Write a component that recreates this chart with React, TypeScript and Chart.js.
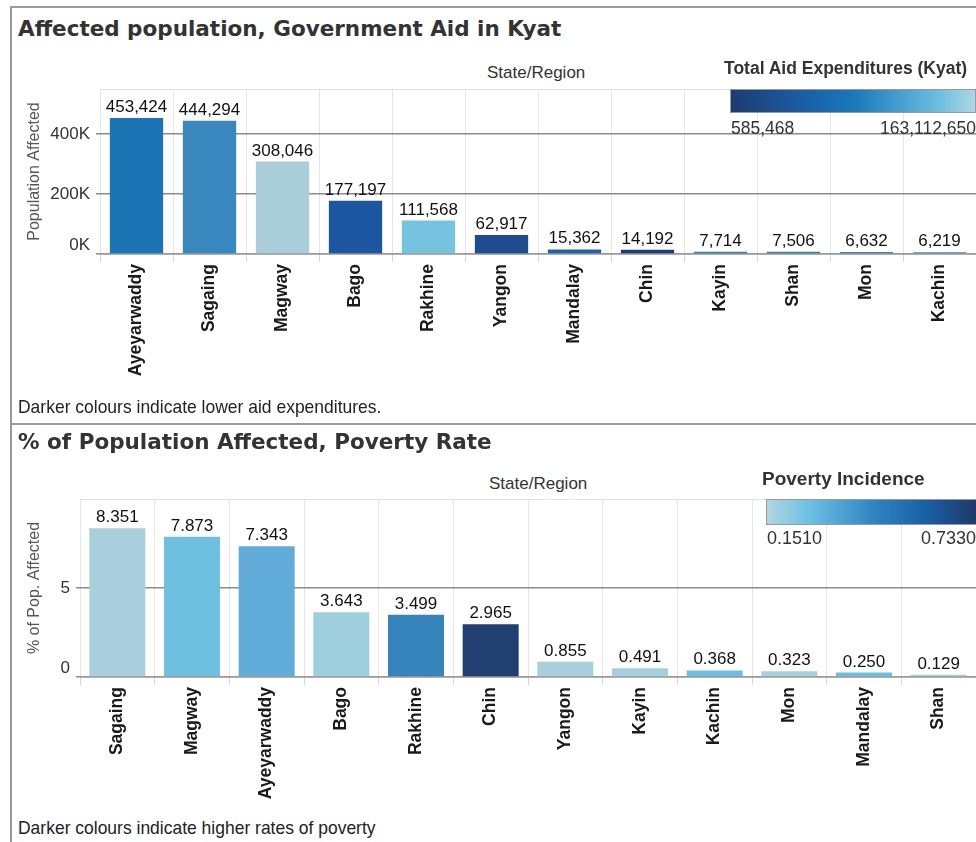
import React, { useEffect, useRef } from 'react'
import { Chart, registerables } from 'chart.js'

Chart.register(...registerables)

// --- data: top panel (affected population, sorted by size)
const aidRegions = ['Ayeyarwaddy', 'Sagaing', 'Magway', 'Bago', 'Rakhine', 'Yangon', 'Mandalay', 'Chin', 'Kayin', 'Shan', 'Mon', 'Kachin']
const aidAffected = [453424, 444294, 308046, 177197, 111568, 62917, 15362, 14192, 7714, 7506, 6632, 6219]
const aidColors = ['#1b74b4', '#3887be', '#a9ced9', '#1c55a0', '#76c3e0', '#1d4d8e', '#1e63aa', '#1d3d7a', '#3b7ab2', '#3b7ab2', '#4a82b6', '#4a82b6']
const aidTicks = [0, 200000, 400000]
const aidLegend = ['585,468', '163,112,650']

// --- data: bottom panel (% of population affected)
const povRegions = ['Sagaing', 'Magway', 'Ayeyarwaddy', 'Bago', 'Rakhine', 'Chin', 'Yangon', 'Kayin', 'Kachin', 'Mon', 'Mandalay', 'Shan']
const povPercent = [8.351, 7.873, 7.343, 3.643, 3.499, 2.965, 0.855, 0.491, 0.368, 0.323, 0.25, 0.129]
const povColors = ['#a8cfdb', '#6fbfe1', '#62acd9', '#9fcedc', '#3784bd', '#213f70', '#a7d0dc', '#a4cfdd', '#6ebfe1', '#a7d0dc', '#6cbee1', '#a7d0dc']
const povTicks = [0, 5]
const povLegend = ['0.1510', '0.7330']

const SANS = '"Liberation Sans", Arial, sans-serif'
const TITLE_FONT = '"DejaVu Sans", sans-serif'

interface BarPanelProps {
    labels: string[]
    values: number[]
    colors: string[]
    ticks: number[]
    yMax: number
    yTitle: string
    yWidth: number
    xHeight: number
    tickFormat: (v: number) => string
    valueFormat: (v: number) => string
    barPct: number
    style: React.CSSProperties
}

function BarPanel(props: BarPanelProps) {
    const canvasRef = useRef<HTMLCanvasElement>(null)

    useEffect(() => {
        if (!canvasRef.current) return
        const { labels, values, colors, ticks, yMax, yTitle, yWidth, xHeight, tickFormat, valueFormat, barPct } = props

        // value labels over the bars, light top frame line, and the raised zero label
        const labelPlugin = {
            id: 'valueLabels',
            beforeDatasetsDraw(chart: any) {
                const { ctx, chartArea } = chart
                ctx.save()
                ctx.strokeStyle = '#e2e2e2'
                ctx.lineWidth = 1
                ctx.beginPath()
                ctx.moveTo(chartArea.left, chartArea.top + 0.5)
                ctx.lineTo(chartArea.right, chartArea.top + 0.5)
                ctx.stroke()
                ctx.restore()
            },
            afterDatasetsDraw(chart: any) {
                const { ctx, chartArea } = chart
                const meta = chart.getDatasetMeta(0)
                ctx.save()
                ctx.font = `17px ${SANS}`
                ctx.fillStyle = '#111'
                ctx.textAlign = 'center'
                ctx.textBaseline = 'alphabetic'
                meta.data.forEach((bar: any, i: number) => {
                    ctx.fillText(valueFormat(values[i]), bar.x, bar.y - 6)
                })
                // Tableau lifts the bottom axis label inside the pane
                ctx.fillStyle = '#333'
                ctx.textAlign = 'right'
                ctx.textBaseline = 'middle'
                const y0 = chart.scales.y.getPixelForValue(ticks[0])
                ctx.fillText(tickFormat(ticks[0]), chartArea.left - 10, Math.min(y0, chartArea.bottom) - 9)
                ctx.restore()
            },
        }

        const chart = new Chart(canvasRef.current, {
            type: 'bar',
            data: {
                labels,
                datasets: [{
                    data: values,
                    backgroundColor: colors,
                    borderWidth: 0,
                    categoryPercentage: 1,
                    barPercentage: barPct,
                }],
            },
            options: {
                responsive: false,
                animation: false,
                layout: { padding: { top: 29, right: 0, left: 0, bottom: 0 } },
                plugins: {
                    legend: { display: false },
                    tooltip: { enabled: false },
                },
                scales: {
                    x: {
                        grid: {
                            offset: true,
                            color: '#e6e6e6',
                            tickLength: 8,
                            tickColor: '#d6d6d6',
                        },
                        border: { display: true, color: '#9a9a9a', width: 1.5 },
                        ticks: {
                            autoSkip: false,
                            minRotation: 90,
                            maxRotation: 90,
                            padding: 2,
                            color: '#1a1a1a',
                            font: { family: SANS, size: 17.5, weight: 'bold' },
                        },
                        afterFit: (scale: any) => { scale.height = xHeight },
                    },
                    y: {
                        min: 0,
                        max: yMax,
                        afterBuildTicks: (scale: any) => { scale.ticks = ticks.map(v => ({ value: v })) },
                        grid: {
                            color: '#8c8c8c',
                            lineWidth: 1.5,
                            tickLength: 4,
                        },
                        border: { display: false },
                        ticks: {
                            padding: 6,
                            color: '#333',
                            font: { family: SANS, size: 17 },
                            callback: (v: any) => (Number(v) === ticks[0] ? '' : tickFormat(Number(v))),
                        },
                        title: {
                            display: true,
                            text: yTitle,
                            color: '#555',
                            font: { family: SANS, size: 16 },
                            padding: { top: 15, bottom: 0 },
                        },
                        afterFit: (scale: any) => { scale.width = yWidth },
                    },
                },
            },
            plugins: [labelPlugin],
        })

        return () => chart.destroy()
    }, [])

    return <canvas ref={canvasRef} width={966} height={345} style={{ position: 'absolute', ...props.style }} />
}

const abs = (s: React.CSSProperties): React.CSSProperties => ({ position: 'absolute', whiteSpace: 'nowrap', ...s })

const footer: React.CSSProperties = { fontSize: 19, color: '#222', transform: 'scaleX(0.92)', transformOrigin: 'left center' }

export default function App() {
    return (
        <div style={{ position: 'absolute', left: 0, top: 0, width: 976, height: 842, background: '#fff', overflow: 'hidden', fontFamily: SANS }}>
            {/* panel frames */}
            <div style={abs({ left: 10, top: 6, width: 980, height: 415, borderTop: '2px solid #9a9a9a', borderLeft: '2px solid #9a9a9a', borderBottom: '2px solid #9a9a9a' })} />
            <div style={abs({ left: 10, top: 423, width: 980, height: 440, borderLeft: '2px solid #9a9a9a' })} />

            {/* top panel */}
            <div style={abs({ left: 18, top: 16, fontFamily: TITLE_FONT, fontWeight: 'bold', fontSize: 21.5, color: '#333' })}>
                Affected population, Government Aid in Kyat
            </div>
            <div style={abs({ left: 487, top: 63, fontSize: 17, color: '#333' })}>State/Region</div>
            <BarPanel
                labels={aidRegions}
                values={aidAffected}
                colors={aidColors}
                ticks={aidTicks}
                yMax={550000}
                yTitle="Population Affected"
                yWidth={90}
                xHeight={151}
                tickFormat={v => `${v / 1000}K`}
                valueFormat={v => v.toLocaleString('en-US')}
                barPct={0.73}
                style={{ left: 10, top: 60 }}
            />
            <div style={abs({ left: 724, top: 58, fontSize: 17.5, fontWeight: 'bold', color: '#333' })}>Total Aid Expenditures (Kyat)</div>
            <div style={abs({ left: 730, top: 89, width: 244, height: 22, border: '1px solid #9a9a9a', background: 'linear-gradient(to right, #1f3b70 0%, #1b5ea6 30%, #1a78ba 50%, #6cbde0 85%, #acd8e2 100%)' })} />
            <div style={abs({ left: 731, top: 118, fontSize: 17.5, color: '#333' })}>{aidLegend[0]}</div>
            <div style={abs({ right: 0, top: 118, fontSize: 17.5, color: '#333' })}>{aidLegend[1]}</div>
            <div style={abs({ left: 18, top: 396, ...footer })}>
                Darker colours indicate lower aid expenditures.
            </div>

            {/* bottom panel */}
            <div style={abs({ left: 18, top: 429, fontFamily: TITLE_FONT, fontWeight: 'bold', fontSize: 21.5, color: '#333' })}>
                % of Population Affected, Poverty Rate
            </div>
            <div style={abs({ left: 489, top: 474, fontSize: 17, color: '#333' })}>State/Region</div>
            <BarPanel
                labels={povRegions}
                values={povPercent}
                colors={povColors}
                ticks={povTicks}
                yMax={10}
                yTitle="% of Pop. Affected"
                yWidth={70}
                xHeight={138}
                tickFormat={v => `${v}`}
                valueFormat={v => v.toFixed(3)}
                barPct={0.75}
                style={{ left: 10, top: 470 }}
            />
            <div style={abs({ left: 762, top: 468, fontSize: 19, fontWeight: 'bold', color: '#333' })}>Poverty Incidence</div>
            <div style={abs({ left: 766, top: 499, width: 212, height: 24, border: '1px solid #9a9a9a', background: 'linear-gradient(to right, #afd7e2 0%, #6dc0e3 20%, #2f86c2 50%, #1a5ea6 75%, #1f3866 100%)' })} />
            <div style={abs({ left: 767, top: 528, fontSize: 18, color: '#333' })}>{povLegend[0]}</div>
            <div style={abs({ right: 0, top: 528, fontSize: 18, color: '#333' })}>{povLegend[1]}</div>
            <div style={abs({ left: 18, top: 817, ...footer })}>
                Darker colours indicate higher rates of poverty
            </div>
        </div>
    )
}
